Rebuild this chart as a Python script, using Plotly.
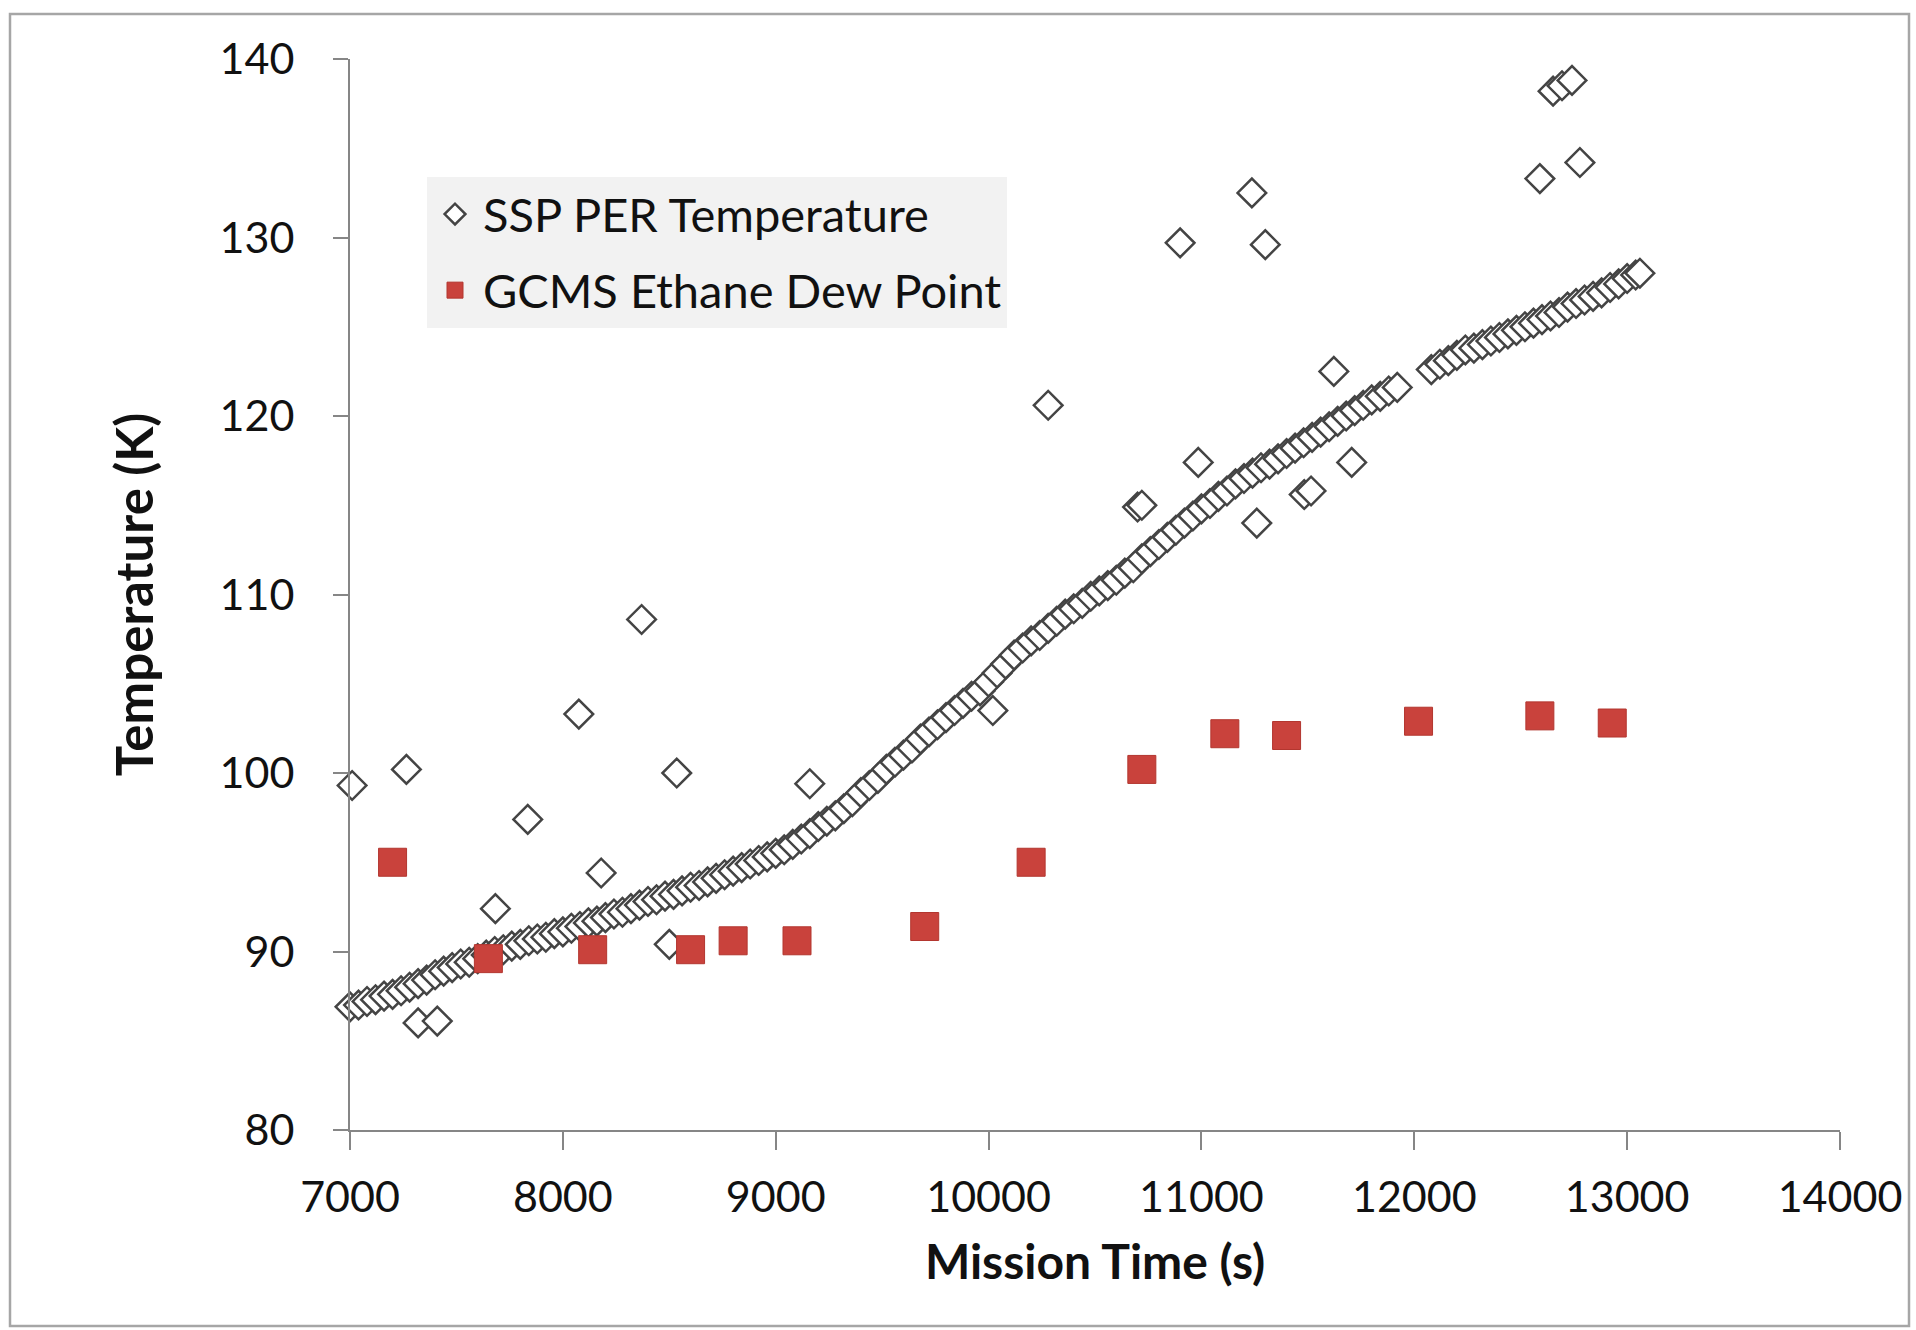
import plotly.graph_objects as go

# ---------------- data ----------------
# SSP PER temperature - dense main trend (mission time in s, temperature in K)
ssp_time = [
    7000, 7040, 7080, 7120, 7160, 7200, 7240, 7280, 7320, 7360, 7400, 7440, 7480,
    7520, 7560, 7600, 7640, 7680, 7720, 7760, 7800, 7840, 7880, 7920, 7960, 8000,
    8040, 8080, 8120, 8160, 8200, 8240, 8280, 8320, 8360, 8400, 8440, 8480, 8520,
    8560, 8600, 8640, 8680, 8720, 8760, 8800, 8840, 8880, 8920, 8960, 9000, 9040,
    9080, 9120, 9160, 9200, 9240, 9280, 9320, 9360, 9400, 9440, 9480, 9520, 9560,
    9600, 9640, 9680, 9720, 9760, 9800, 9840, 9880, 9920, 9960, 10000, 10040,
    10080, 10120, 10160, 10200, 10240, 10280, 10320, 10360, 10400, 10440, 10480,
    10520, 10560, 10600, 10640, 10680, 10720, 10760, 10800, 10840, 10880, 10920,
    10960, 11000, 11040, 11080, 11120, 11160, 11200, 11240, 11280, 11320, 11360,
    11400, 11440, 11480, 11520, 11560, 11600, 11640, 11680, 11720, 11760, 11800,
    11840, 11880, 11920,
    12080, 12120, 12160, 12200, 12240, 12280, 12320, 12360, 12400, 12440, 12480,
    12520, 12560, 12600, 12640, 12680, 12720, 12760, 12800, 12840, 12880, 12920,
    12960, 13000, 13040, 13060,
]
ssp_temp = [
    86.9, 87.0, 87.2, 87.3, 87.5, 87.6, 87.8, 88.0, 88.2, 88.4, 88.7, 88.9, 89.1,
    89.3, 89.4, 89.6, 89.8, 90.0, 90.1, 90.3, 90.4, 90.6, 90.7, 90.8, 91.0, 91.1,
    91.3, 91.4, 91.6, 91.7, 91.9, 92.1, 92.2, 92.4, 92.6, 92.8, 92.9, 93.1, 93.2,
    93.4, 93.6, 93.7, 93.9, 94.1, 94.3, 94.5, 94.7, 94.9, 95.1, 95.3, 95.5, 95.7,
    96.0, 96.3, 96.6, 97.0, 97.3, 97.6, 98.0, 98.4, 98.9, 99.3, 99.7, 100.2, 100.6,
    101.0, 101.4, 101.9, 102.3, 102.7, 103.1, 103.5, 103.9, 104.3, 104.6, 105.1, 105.6,
    106.1, 106.6, 107.0, 107.4, 107.7, 108.1, 108.5, 108.9, 109.2, 109.5, 109.9,
    110.2, 110.5, 110.8, 111.2, 111.5, 112.0, 112.4, 112.8, 113.2, 113.6, 114.0,
    114.4, 114.8, 115.1, 115.5, 115.8, 116.2, 116.5, 116.8, 117.1, 117.3, 117.6,
    117.9, 118.2, 118.5, 118.8, 119.1, 119.4, 119.7, 120.0, 120.3, 120.6, 120.9,
    121.1, 121.4, 121.6,
    122.6, 122.9, 123.1, 123.4, 123.7, 123.8, 124.0, 124.2, 124.4, 124.6, 124.8,
    125.0, 125.2, 125.4, 125.6, 125.8, 126.1, 126.3, 126.5, 126.7, 126.9, 127.2,
    127.4, 127.7, 127.9, 128.0,
]
# SSP PER temperature - scattered readings away from the trend
ssp_out_time = [7010, 7265, 7320, 7410, 7683, 7835, 8075, 8180, 8370, 8500, 8535,
                9160, 10020, 10280, 10700, 10720, 10900, 10985, 11237, 11260,
                11300, 11483, 11515, 11622, 11706, 12590, 12652, 12694, 12741, 12778]
ssp_out_temp = [99.3, 100.2, 86.0, 86.1, 92.4, 97.4, 103.3, 94.4, 108.6, 90.4, 100.0,
                99.4, 103.5, 120.6, 114.9, 115.0, 129.7, 117.4, 132.5, 114.0,
                129.6, 115.6, 115.8, 122.5, 117.4, 133.3, 138.2, 138.5, 138.8, 134.2]

# GCMS ethane dew point
gcms_time = [7200, 7650, 8140, 8600, 8800, 9100, 9700, 10200, 10720, 11110,
             11400, 12020, 12590, 12930]
gcms_temp = [95.0, 89.6, 90.1, 90.1, 90.6, 90.6, 91.4, 95.0, 100.2, 102.2,
             102.1, 102.9, 103.2, 102.8]

x_ticks = [7000, 8000, 9000, 10000, 11000, 12000, 13000, 14000]
y_ticks = [80, 90, 100, 110, 120, 130, 140]

# ---------------- figure ----------------
W, H = 1916, 1330
ML, MR, MT, MB = 350, 76, 59, 200
PW, PH = W - ML - MR, H - MT - MB
FONT = "Lato, 'Open Sans', sans-serif"
AXIS_GRAY = "#868686"

# combine all SSP readings in time order (drawn as one series)
ssp_pairs = sorted(zip(ssp_time + ssp_out_time, ssp_temp + ssp_out_temp))
ssp_x = [p[0] for p in ssp_pairs]
ssp_y = [p[1] for p in ssp_pairs]

fig = go.Figure()
fig.add_trace(go.Scatter(
    x=ssp_x, y=ssp_y, mode="markers", name="SSP PER Temperature",
    legendgroup="a",
    marker=dict(symbol="diamond", size=22, color="white",
                line=dict(color="#444444", width=2.5)),
    cliponaxis=False,
))
fig.add_trace(go.Scatter(
    x=gcms_time, y=gcms_temp, mode="markers", name="GCMS Ethane Dew Point",
    legendgroup="b",
    marker=dict(symbol="square", size=28, color="#c9423c",
                line=dict(color="#b3362f", width=1)),
    cliponaxis=False,
))

def px_to_paper_x(px):
    return (px - ML) / PW

def px_to_paper_y(py):
    return (H - MB - py) / PH

# outer chart frame
fig.add_shape(type="rect", xref="paper", yref="paper",
              x0=px_to_paper_x(10), x1=px_to_paper_x(1909),
              y0=px_to_paper_y(1326), y1=px_to_paper_y(14),
              line=dict(color="#a6a6a6", width=2.5), fillcolor="rgba(0,0,0,0)",
              layer="below")

fig.update_layout(
    width=W, height=H,
    margin=dict(l=ML, r=MR, t=MT, b=MB),
    paper_bgcolor="white", plot_bgcolor="white",
    font=dict(family=FONT, color="#111111"),
    showlegend=True,
    legend=dict(
        x=px_to_paper_x(427), y=px_to_paper_y(177),
        xanchor="left", yanchor="top",
        bgcolor="#f2f2f2", borderwidth=0,
        font=dict(family=FONT, size=47, color="#111111"),
        tracegroupgap=12,
        itemsizing="trace",
        itemwidth=46,
    ),
    xaxis=dict(
        range=[7000, 14000], tickvals=x_ticks, ticktext=[str(v) for v in x_ticks],
        showgrid=False, zeroline=False,
        showline=True, linecolor=AXIS_GRAY, linewidth=2,
        ticks="outside", ticklen=18, tickwidth=2, tickcolor=AXIS_GRAY,
        tickfont=dict(family=FONT, size=43, color="#111111"),
        ticklabelstandoff=10,
        title=dict(text="<b>Mission Time (s)</b>", standoff=26,
                   font=dict(family=FONT, size=48, color="#111111")),
    ),
    yaxis=dict(
        range=[80, 140], tickvals=y_ticks, ticktext=[str(v) for v in y_ticks],
        showgrid=False, zeroline=False,
        showline=True, linecolor=AXIS_GRAY, linewidth=2,
        ticks="outside", ticklen=15, tickwidth=2, tickcolor=AXIS_GRAY,
        tickfont=dict(family=FONT, size=43, color="#111111"),
        ticklabelstandoff=30,
        title=dict(text="<b>Temperature (K)</b>", standoff=50,
                   font=dict(family=FONT, size=51, color="#111111")),
    ),
)

fig.write_html("out.html")
